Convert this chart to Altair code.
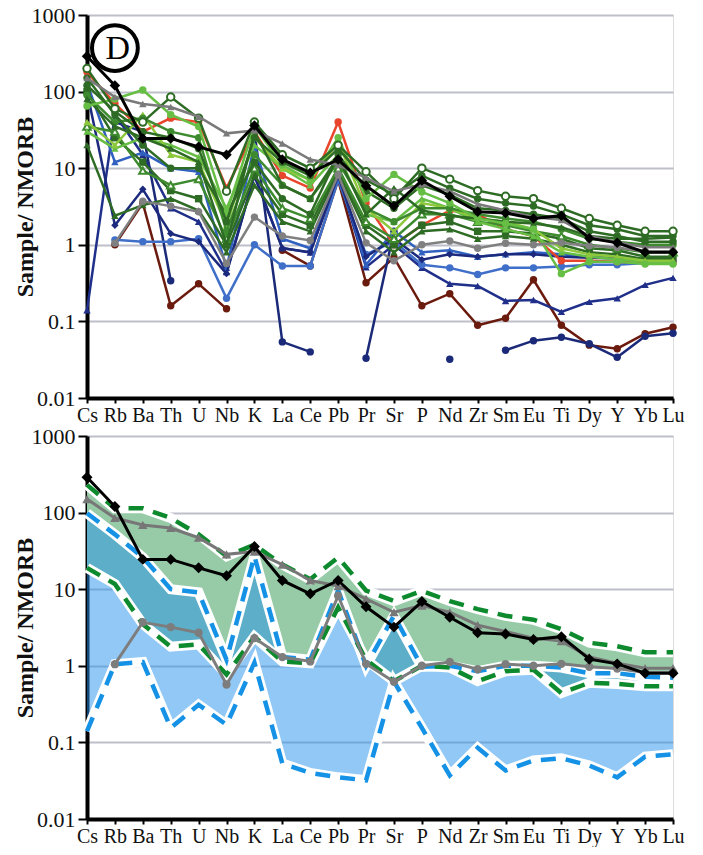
import altair as alt
import pandas as pd

cats = ["Cs","Rb","Ba","Th","U","Nb","K","La","Ce","Pb","Pr","Sr","P","Nd","Zr","Sm","Eu","Ti","Dy","Y","Yb","Lu"]
N = None

# shared reference series
black_d = [290,120,24.5,24.5,19,15,36,13,8.7,13,5.9,3.2,6.9,4.3,2.7,2.6,2.2,2.4,1.22,1.06,0.80,0.80]
gray_hi = [150,85,69,63,47,28.5,31,21,13,11,7.5,5.0,6.1,5.0,3.4,2.8,2.3,2.1,1.3,1.08,0.93,0.93]
gray_lo = [N,1.05,3.7,3.2,2.7,0.57,2.3,1.3,1.14,8.2,1.06,0.62,1.0,1.12,0.9,1.05,1.0,1.06,0.97,0.92,0.82,0.82]

# top panel series
brown   = [N,1.0,3.5,0.16,0.31,0.146,N,0.85,0.53,7,0.32,0.68,0.16,0.23,0.089,0.11,0.35,0.089,0.049,0.044,0.069,0.084]
navy_c  = [N,40,30,0.34,N,N,30,0.054,0.040,N,0.033,1.5,N,0.032,N,0.042,0.056,0.062,0.051,0.034,0.064,0.07]
navy_t  = [0.14,50,15,3,2,0.44,8,0.91,0.79,8,0.51,1.0,0.5,0.31,0.29,0.185,0.19,0.133,0.18,0.2,0.3,0.37]
blue_c  = [N,1.16,1.1,1.1,1.2,0.2,1.0,0.53,0.53,7,0.75,1.1,0.55,0.5,0.41,0.5,0.5,0.52,0.55,0.55,0.58,0.6]
blue_r  = [130,12,16,10,9,0.5,20,1.2,0.9,9,0.55,1.5,0.8,0.85,0.7,0.75,0.8,0.75,0.7,0.7,0.65,0.65]
navy_d  = [100,1.8,5.3,1.4,1.1,0.42,8,0.9,0.8,8,0.7,1.2,0.64,0.75,0.7,0.75,0.75,0.7,0.68,0.66,0.62,0.62]
red     = [180,70,30,45,40,5.5,30,8,5.5,40,3.5,1.0,1.8,2.8,2.5,1.6,1.3,0.62,0.62,0.6,0.58,0.58]
g1  = [200,60,40,85,45,5,40,15,10,20,9,4,10,7.2,5.1,4.3,4.0,3.0,2.2,1.8,1.5,1.5]
g2  = [120,55,30,25,18,2.0,25,12,8,18,7,4.5,8,5.5,4.0,3.5,3.2,2.5,1.8,1.6,1.3,1.3]
g3  = [65,80,105,50,35,2.6,35,11,7,25,4,8.3,4.9,3.5,2.2,1.9,1.6,0.42,0.6,0.6,0.56,0.56]
g4  = [30,18,25,20,14,3,20,10,6,15,2.5,2,4,3,2,1.6,1.3,0.8,0.7,0.65,0.6,0.6]
g5  = [20,2.4,3.3,4,2.8,0.8,6,2,1.5,9,1.5,0.8,1.5,1.6,1.2,1.3,1.2,1.0,0.8,0.75,0.65,0.65]
g6  = [35,30,9.3,6,7.2,1.2,10,3,2.2,10,2,1.2,2.5,2.5,2.0,1.8,1.5,1.3,1.0,0.9,0.8,0.8]
g7  = [100,25,12,5.1,4.0,1.0,8,2.5,1.8,10,1.8,1.0,1.8,2.0,1.5,1.5,1.4,1.2,0.9,0.85,0.7,0.7]
g8  = [90,40,45,30,25,1.5,15,6,4,12,3,2,3,3,2.5,2.2,2,1.6,1.2,1.1,1.0,1.0]
g9  = [150,50,20,10,10,2.5,12,4,2.5,15,5,3,6,4.5,3,2.8,2.5,2.2,1.5,1.3,1.1,1.1]
g10 = [40,20,50,15,12,1.8,25,10,7,22,3,1.5,3.5,3,2.2,2,1.6,0.9,0.75,0.7,0.62,0.62]
g11 = [80,35,25,18,12,1.0,30,6,4,14,2.5,5.5,2.8,2.4,2.2,2.0,1.9,1.7,1.3,1.2,1.2,1.25]

# bottom panel envelopes
blue_hi  = [98,52,26,10,9.1,1.2,27,1.3,1.2,9.6,1.0,4.5,0.97,1.0,0.85,1.0,1.0,0.95,0.8,0.8,0.72,0.7]
blue_lo  = [0.14,1.05,1.12,0.155,0.31,0.17,1.1,0.053,0.04,0.035,0.032,0.62,0.155,0.037,0.085,0.043,0.058,0.062,0.05,0.035,0.065,0.07]
green_hi = [230,114,114,85,52,27,38,21,13.5,26,9.6,7.0,9.5,7.0,5.5,4.5,4.0,3.0,2.0,1.8,1.5,1.5]
green_lo = [19,11.7,3.5,1.78,1.9,0.77,2.4,1.14,1.08,5.8,1.2,0.63,1.0,0.95,0.63,0.85,0.89,0.44,0.6,0.58,0.54,0.54]

SERIF = "Liberation Serif"
W, H = 586, 383

xax = alt.Axis(title=None, labelAngle=0, labelFont=SERIF, labelFontSize=20, labelColor="#111",
               tickSize=5, tickWidth=2, tickColor="black", domainColor="black", domainWidth=4,
               labelPadding=2, grid=False)
yax = alt.Axis(title="Sample/ NMORB", titleFont=SERIF, titleFontSize=24, titleFontWeight="bold",
               titleColor="#111", titlePadding=-6,
               values=[0.01, 0.1, 1, 10, 100, 1000], format="~g",
               labelFont=SERIF, labelFontSize=22, labelColor="#111", labelPadding=3,
               tickSize=9, tickWidth=2, tickColor="black", domainColor="black", domainWidth=4,
               grid=True, gridColor="#BEBFC9", gridWidth=2)
X = alt.X("el:N", sort=cats, scale=alt.Scale(type="point", padding=0, domain=cats), axis=xax)
ysc = alt.Scale(type="log", domain=[0.01, 1000])


def Y(field="v"):
    return alt.Y(f"{field}:Q", scale=ysc, axis=yax)


def series(values, color, shape, size=55, sw=2.5, filled=True):
    rows, seg = [], 0
    for c, v in zip(cats, values):
        if v is None:
            seg += 1
            continue
        rows.append({"el": c, "v": v, "seg": seg})
    df = pd.DataFrame(rows)
    base = alt.Chart(df).encode(x=X, y=Y())
    line = base.mark_line(color=color, strokeWidth=sw).encode(detail="seg:N")
    if filled:
        pts = base.mark_point(shape=shape, size=size, filled=True, color=color, opacity=1)
    else:
        pts = base.mark_point(shape=shape, size=size, filled=False, fill="white", fillOpacity=1,
                              stroke=color, strokeWidth=2, opacity=1)
    return [line, pts]


DG, MG, LG, YG = "#2E6B24", "#3D8B2E", "#67BE45", "#8DC83C"
top_layers = []
for vals, col, shp, fil in [
    (brown, "#6B1A0E", "circle", True),
    (navy_c, "#1B2A78", "circle", True),
    (navy_t, "#1F2F8A", "triangle-up", True),
    (blue_c, "#3F6FC8", "circle", True),
    (blue_r, "#3060C0", "triangle-up", True),
    (navy_d, "#1C2A7E", "diamond", True),
    (red, "#E8452C", "circle", True),
    (g5, DG, "triangle-up", True),
    (g7, DG, "square", True),
    (g6, MG, "triangle-up", False),
    (g4, LG, "triangle-up", True),
    (g10, YG, "triangle-up", True),
    (g8, MG, "circle", True),
    (g11, DG, "triangle-up", True),
    (g9, DG, "circle", True),
    (g3, LG, "circle", True),
    (g2, DG, "circle", True),
    (g1, DG, "circle", False),
    (gray_lo, "#808080", "circle", True),
    (gray_hi, "#7A7A7A", "triangle-up", True),
]:
    top_layers += series(vals, col, shp, filled=fil)
top_layers += series(black_d, "black", "diamond", size=110, sw=3)

lab = pd.DataFrame({"el": ["Rb"], "v": [370], "t": ["D"]})
top_layers.append(alt.Chart(lab).mark_point(shape="circle", size=2100, filled=False, fill="white",
                                             fillOpacity=1, stroke="black", strokeWidth=4, opacity=1)
                  .encode(x=X, y=Y()))
top_layers.append(alt.Chart(lab).mark_text(font=SERIF, fontSize=34, color="black", dx=3, dy=1)
                  .encode(x=X, y=Y(), text="t:N"))

top = alt.layer(*top_layers).properties(width=W, height=H)

env = pd.DataFrame({"el": cats, "blue_hi": blue_hi, "blue_lo": blue_lo,
                    "green_hi": green_hi, "green_lo": green_lo})
eb = alt.Chart(env)
bot_layers = [
    eb.mark_area(color="#97CBA7", opacity=1).encode(x=X, y=Y("green_lo"), y2="green_hi:Q"),
    eb.mark_area(color="#2391EB", opacity=0.5).encode(x=X, y=Y("blue_lo"), y2="blue_hi:Q"),
]
for f in ["blue_hi", "blue_lo", "green_hi", "green_lo"]:
    bot_layers.append(eb.mark_line(color="white", strokeWidth=10).encode(x=X, y=Y(f)))
for f, col in [("blue_hi", "#1592E6"), ("blue_lo", "#1592E6"), ("green_hi", "#0E8A2E"), ("green_lo", "#0E8A2E")]:
    bot_layers.append(eb.mark_line(color=col, strokeWidth=4.5, strokeDash=[15, 10]).encode(x=X, y=Y(f)))
bot_layers += series(gray_lo, "#7D7D7D", "circle", size=70, sw=3)
bot_layers += series(gray_hi, "#777777", "triangle-up", size=90, sw=3)
bot_layers += series(black_d, "black", "diamond", size=120, sw=3)

bottom = alt.layer(*bot_layers).properties(width=W, height=H)

chart = alt.vconcat(top, bottom, spacing=-2).properties(
    padding={"left": 4, "top": -5, "right": 0, "bottom": 0}
).configure_view(stroke="black", strokeWidth=4).configure(background="white")

chart.save("out.html", embed_options={"renderer": "svg", "actions": False})
